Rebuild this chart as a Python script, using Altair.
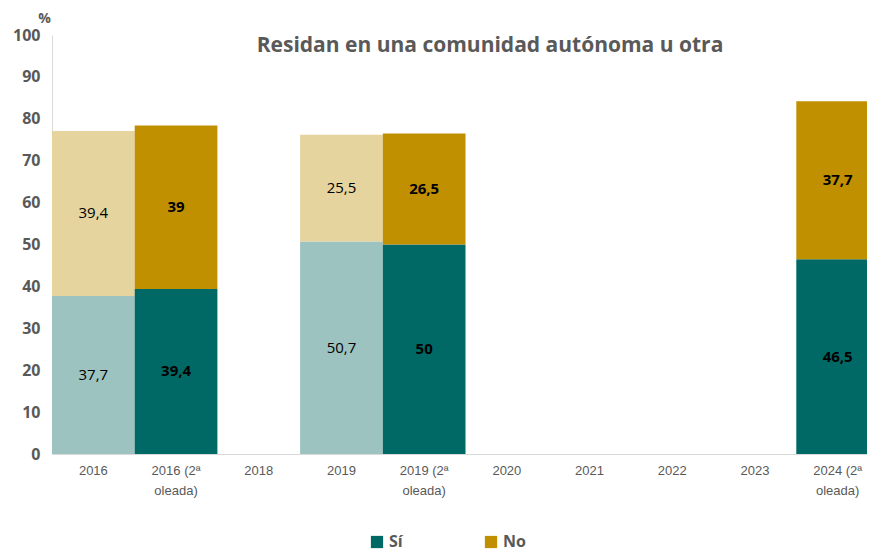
import altair as alt
import pandas as pd

categories = ["2016", "2016 (2ª oleada)", "2018", "2019", "2019 (2ª oleada)",
              "2020", "2021", "2022", "2023", "2024 (2ª oleada)"]
bar_cats = ["2016", "2016 (2ª oleada)", "2019", "2019 (2ª oleada)", "2024 (2ª oleada)"]
si_values = [37.7, 39.4, 50.7, 50.0, 46.5]
no_values = [39.4, 39.0, 25.5, 26.5, 37.7]
second_wave = [False, True, False, True, True]

rows = []
for c, s, n, w in zip(bar_cats, si_values, no_values, second_wave):
    rows.append({"cat": c, "serie": "Sí" if w else "Sí claro", "value": s, "ord": 0, "wave2": w})
    rows.append({"cat": c, "serie": "No" if w else "No claro", "value": n, "ord": 1, "wave2": w})
df = pd.DataFrame(rows)

GRAY = "#595959"

x_enc = alt.X("cat:N", scale=alt.Scale(domain=categories, paddingInner=0, paddingOuter=0,
                                       range=[0, 827]),
              axis=alt.Axis(title=None, labelAngle=0, ticks=False, domainColor="#D9D9D9",
                            labelColor=GRAY, labelFontSize=13, labelFont="Liberation Sans",
                            labelPadding=10, labelLineHeight=20,
                            labelExpr="split(replace(datum.label, ' oleada)', '|oleada)'), '|')"))

bars = alt.Chart(df).mark_bar().encode(
    x=x_enc,
    y=alt.Y("value:Q", stack="zero",
            scale=alt.Scale(domain=[0, 100], nice=False),
            axis=alt.Axis(title="%", titleAngle=0, titleX=-8, titleY=-10, titleAlign="center",
                          titleColor=GRAY, titleFontSize=14, titleFontWeight="bold", titleFont="Open Sans",
                          values=list(range(0, 101, 10)), ticks=False, grid=False,
                          domainColor="#D9D9D9", labelColor=GRAY, labelFontSize=16,
                          labelFontWeight="bold", labelFont="Open Sans", labelPadding=12)),
    color=alt.Color("serie:N",
                    scale=alt.Scale(domain=["Sí", "No", "Sí claro", "No claro"],
                                    range=["#006966", "#C09000", "#9DC3C1", "#E5D49E"]),
                    legend=alt.Legend(title=None, values=["Sí", "No"], orient="none",
                                      direction="horizontal", legendX=317, legendY=499,
                                      symbolType="square", symbolSize=150, symbolStrokeWidth=0,
                                      labelFontSize=16, labelFontWeight="bold", labelColor=GRAY,
                                      labelFont="Open Sans", columnPadding=80)),
    order=alt.Order("ord:Q"),
)

base_text = alt.Chart(df).transform_stack(
    stack="value", groupby=["cat"], sort=[alt.SortField("ord")], as_=["y0", "y1"]
).transform_calculate(
    mid="(datum.y0 + datum.y1) / 2",
    label="replace(format(datum.value, '.1~f'), '.', ',')"
)

text_light = base_text.transform_filter("!datum.wave2").mark_text(
    fontSize=15, font="Open Sans", color="#000000"
).encode(x=alt.X("cat:N", scale=alt.Scale(domain=categories)), y="mid:Q", text="label:N")

text_dark = base_text.transform_filter("datum.wave2").mark_text(
    fontSize=15, font="Open Sans", fontWeight="bold", color="#000000"
).encode(x=alt.X("cat:N", scale=alt.Scale(domain=categories)), y="mid:Q", text="label:N")

title = alt.Chart(pd.DataFrame({"t": ["Residan en una comunidad autónoma u otra"]})).mark_text(
    fontSize=21, font="Open Sans", fontWeight="bold", color=GRAY, align="center"
).encode(x=alt.value(438), y=alt.value(11), text="t:N")

chart = alt.layer(bars, text_light, text_dark, title).properties(
    width=815, height=419,
    autosize=alt.AutoSizeParams(type="none"),
    padding={"left": 44, "top": 27, "right": 0, "bottom": 100},
).configure_view(stroke=None)

chart.save("out.html", embed_options={"renderer": "svg", "actions": False})
